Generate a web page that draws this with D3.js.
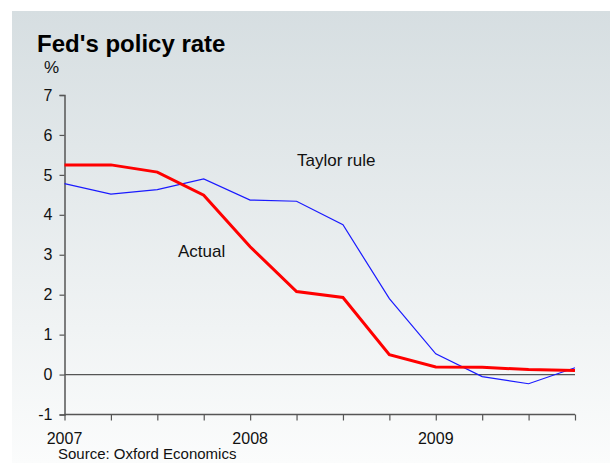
<!DOCTYPE html>
<html><head><meta charset="utf-8">
<script src="https://cdn.jsdelivr.net/npm/d3@7/dist/d3.min.js"></script>
<style>body{margin:0;background:#fff;}svg{display:block;font-family:"Liberation Sans",Arial,sans-serif;} text{font-family:"Liberation Sans",Arial,sans-serif;}</style>
</head><body>
<svg id="c" width="610" height="463"></svg>
<script>
const quarters = ["2007Q1","2007Q2","2007Q3","2007Q4","2008Q1","2008Q2","2008Q3","2008Q4","2009Q1","2009Q2","2009Q3","2009Q4"];
const actual = [5.25, 5.25, 5.07, 4.49, 3.2, 2.08, 1.93, 0.5, 0.19, 0.18, 0.125, 0.1];
const taylor = [4.78, 4.52, 4.63, 4.9, 4.37, 4.34, 3.75, 1.9, 0.52, -0.05, -0.23, 0.17];
const yTicks = [-1, 0, 1, 2, 3, 4, 5, 6, 7];
const yearLabels = ["2007", "2008", "2009"];

const svg = d3.select("#c");
const defs = svg.append("defs");
const g = defs.append("linearGradient").attr("id","bg").attr("x1",0).attr("y1",0).attr("x2",0).attr("y2",1);
g.append("stop").attr("offset","0%").attr("stop-color","#d6dee1");
g.append("stop").attr("offset","100%").attr("stop-color","#fbfcfc");
svg.append("rect").attr("x",12).attr("y",11).attr("width",598).attr("height",452).attr("fill","url(#bg)");

const x = d3.scalePoint().domain(quarters).range([64.5, 575]);
const y = d3.scaleLinear().domain([-1, 7]).range([414.5, 95]);

svg.append("text").attr("x",37).attr("y",52).attr("font-size",24).attr("font-weight","bold").attr("fill","#000").text("Fed's policy rate");
svg.append("text").attr("x",44).attr("y",73).attr("font-size",17).attr("fill","#111").text("%");

// y axis
const ya = svg.append("g").attr("transform","translate(64.5,0)")
  .call(d3.axisLeft(y).tickValues(yTicks).tickSize(5).tickPadding(7).tickFormat(d => String(d)));
ya.attr("font-family", null);
ya.select(".domain").attr("stroke","#555").attr("stroke-width",1.5);
ya.selectAll(".tick line").attr("stroke","#555").attr("stroke-width",1.2);
ya.selectAll(".tick text").attr("font-size",16).attr("fill","#111");

// x axis at bottom (-1)
const xa = svg.append("g").attr("transform",`translate(0,${y(-1)})`)
  .call(d3.axisBottom(x).tickSize(6).tickFormat(""));
xa.select(".domain").attr("stroke","#555").attr("stroke-width",1.5).attr("d",`M64.5,0H575`);
xa.selectAll(".tick line").attr("stroke","#555").attr("stroke-width",1.2);

// year labels
svg.selectAll(".yl").data(yearLabels).enter().append("text")
  .attr("x",(d)=>x(d+"Q1")).attr("y",444).attr("text-anchor","middle")
  .attr("font-size",16).attr("fill","#111").text(d=>d);

// zero line
svg.append("line").attr("x1",64.5).attr("x2",575).attr("y1",y(0)).attr("y2",y(0))
  .attr("stroke","#555").attr("stroke-width",1.2);

const line = d3.line().x((d,i)=>x(quarters[i])).y(d=>y(d));
svg.append("path").datum(taylor).attr("d",line).attr("fill","none").attr("stroke","#1a1aff").attr("stroke-width",1.2);
svg.append("path").datum(actual).attr("d",line).attr("fill","none").attr("stroke","#ff0000").attr("stroke-width",3);

svg.append("text").attr("x",297).attr("y",166).attr("font-size",17).attr("fill","#111").text("Taylor rule");
svg.append("text").attr("x",178).attr("y",257).attr("font-size",17).attr("fill","#111").text("Actual");
svg.append("text").attr("x",58).attr("y",459).attr("font-size",15).attr("fill","#111").text("Source: Oxford Economics");
</script>
</body></html>
